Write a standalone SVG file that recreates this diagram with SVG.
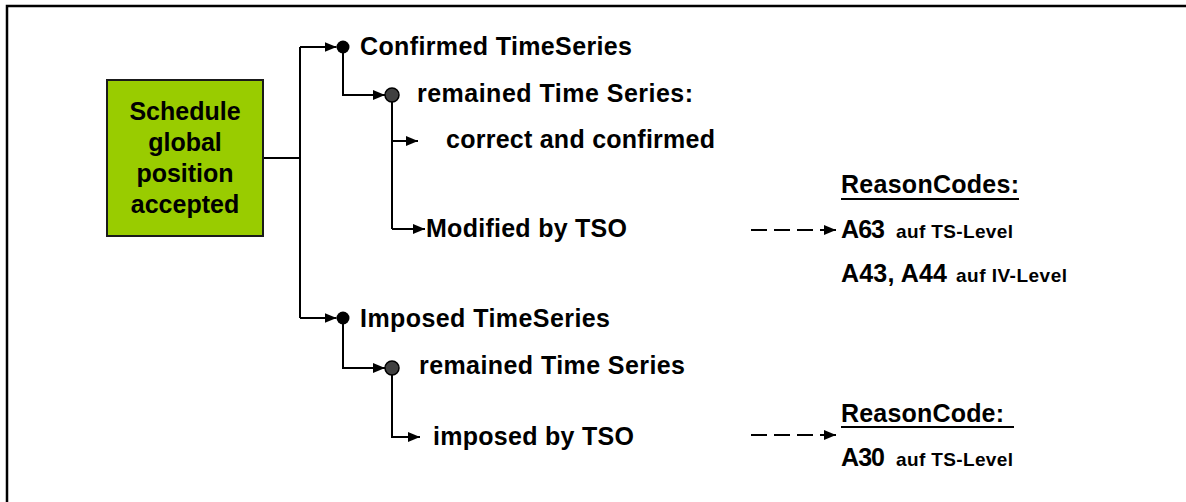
<svg xmlns="http://www.w3.org/2000/svg" width="1186" height="502" viewBox="0 0 1186 502">
<style>
text{font-family:"Liberation Sans",Arial,sans-serif;font-weight:bold;fill:#000}
.t{font-size:25px}
.s{font-size:19px}
.ln{fill:none;stroke:#000;stroke-width:2}
.dash{fill:none;stroke:#000;stroke-width:2;stroke-dasharray:16 7}
.dot{fill:#000}
.dot2{fill:#404040;stroke:#000;stroke-width:1.5}
</style>
<defs>
<marker id="ah" markerUnits="userSpaceOnUse" markerWidth="12" markerHeight="10" refX="12" refY="5" orient="auto">
<path d="M0,0 L12,5 L0,10 Z" fill="#000"/>
</marker>
</defs>
<rect x="0" y="0" width="1186" height="502" fill="#fff"/>
<path d="M7,510 V6 H1200" fill="none" stroke="#000" stroke-width="2.5"/>
<g id="connectors">
<path class="ln" d="M263,158 H300"/>
<path class="ln" d="M300,47 V318"/>
<path class="ln" d="M300,47 H336.5" marker-end="url(#ah)"/>
<path class="ln" d="M300,318 H336.5" marker-end="url(#ah)"/>
<path class="ln" d="M343,47 V95 H385" marker-end="url(#ah)"/>
<path class="ln" d="M392,95 V229"/>
<path class="ln" d="M392,141 H418" marker-end="url(#ah)"/>
<path class="ln" d="M392,229 H425" marker-end="url(#ah)"/>
<path class="ln" d="M343,318 V368 H385" marker-end="url(#ah)"/>
<path class="ln" d="M392,368 V437 H420" marker-end="url(#ah)"/>
<path class="dash" d="M751,230 H836" marker-end="url(#ah)"/>
<path class="dash" d="M751,435 H836" marker-end="url(#ah)"/>
</g>
<g id="node-schedule">
<rect x="107" y="80" width="156" height="156" fill="#99CC00" stroke="#1a1a1a" stroke-width="2"/>
<text class="t" x="185" y="120" text-anchor="middle">Schedule</text>
<text class="t" x="185" y="151" text-anchor="middle">global</text>
<text class="t" x="185" y="182" text-anchor="middle">position</text>
<text class="t" x="185" y="213" text-anchor="middle">accepted</text>
</g>
<g id="node-confirmed">
<circle class="dot" cx="343" cy="47" r="6.5"/>
<text class="t" x="360" y="55" textLength="272" lengthAdjust="spacing">Confirmed TimeSeries</text>
</g>
<g id="node-remained1">
<circle class="dot2" cx="392" cy="95" r="7"/>
<text class="t" x="417" y="102" textLength="276" lengthAdjust="spacing">remained Time Series:</text>
</g>
<g id="node-correct">
<text class="t" x="446" y="148" textLength="269" lengthAdjust="spacing">correct and confirmed</text>
</g>
<g id="node-modified">
<text class="t" x="426" y="237" textLength="201" lengthAdjust="spacing">Modified by TSO</text>
</g>
<g id="node-imposed">
<circle class="dot" cx="343" cy="318" r="6.5"/>
<text class="t" x="360" y="327" textLength="250" lengthAdjust="spacing">Imposed TimeSeries</text>
</g>
<g id="node-remained2">
<circle class="dot2" cx="392" cy="368" r="7"/>
<text class="t" x="419" y="374" textLength="266" lengthAdjust="spacing">remained Time Series</text>
</g>
<g id="node-imposedby">
<text class="t" x="433" y="445" textLength="201" lengthAdjust="spacing">imposed by TSO</text>
</g>
<g id="node-reasoncodes1">
<text class="t" x="841" y="193" textLength="178" lengthAdjust="spacing">ReasonCodes:</text>
<line x1="841" y1="199" x2="1019" y2="199" stroke="#000" stroke-width="2"/>
<text class="t" x="841" y="238" textLength="44" lengthAdjust="spacing">A63</text>
<text class="s" x="896" y="238" textLength="117" lengthAdjust="spacing">auf TS-Level</text>
<text class="t" x="841" y="282" textLength="106" lengthAdjust="spacing">A43, A44</text>
<text class="s" x="956" y="282" textLength="111" lengthAdjust="spacing">auf IV-Level</text>
</g>
<g id="node-reasoncode2">
<text class="t" x="841" y="422" textLength="163" lengthAdjust="spacing">ReasonCode:</text>
<line x1="841" y1="427" x2="1014" y2="427" stroke="#000" stroke-width="2"/>
<text class="t" x="841" y="466" textLength="44" lengthAdjust="spacing">A30</text>
<text class="s" x="896" y="466" textLength="117" lengthAdjust="spacing">auf TS-Level</text>
</g>
</svg>
